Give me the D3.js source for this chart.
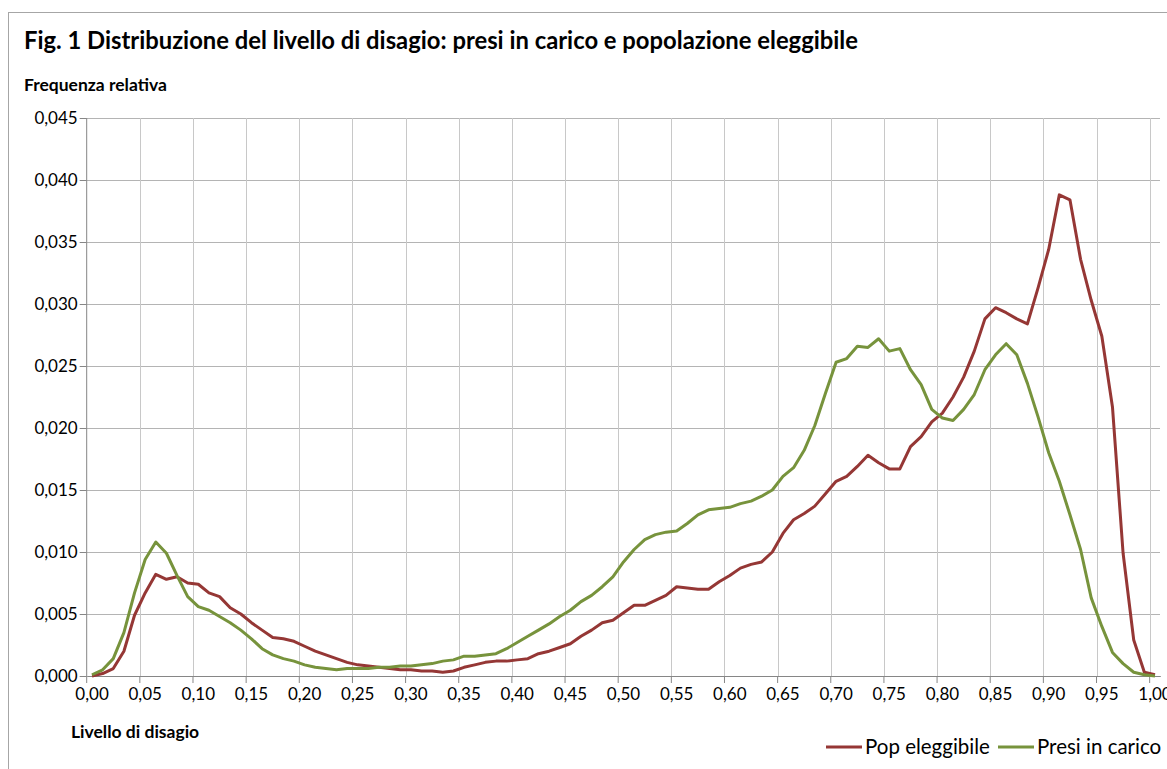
<!DOCTYPE html>
<html>
<head>
	<meta charset="utf-8">
	<script src="https://cdnjs.cloudflare.com/ajax/libs/d3/7.8.5/d3.min.js"></script>
	<style>
		body {
			margin: 0;
			background: #fff;
			font-family: Lato, "Open Sans", sans-serif;
		}
		.axis path, .axis line {
			stroke: #868686;
		}
		.axis text {
			font-family: Lato, "Open Sans", sans-serif;
			font-size: 17px;
			fill: #000;
		}
		.grid line {
			shape-rendering: crispEdges;
		}
		.grid path {
			display: none;
		}
	</style>
</head>
<body>
	<svg width="1167" height="769"></svg>
	<script>
	// livello di disagio (categorie)
	var levels = [0.00,0.01,0.02,0.03,0.04,0.05,0.06,0.07,0.08,0.09,
		0.10,0.11,0.12,0.13,0.14,0.15,0.16,0.17,0.18,0.19,
		0.20,0.21,0.22,0.23,0.24,0.25,0.26,0.27,0.28,0.29,
		0.30,0.31,0.32,0.33,0.34,0.35,0.36,0.37,0.38,0.39,
		0.40,0.41,0.42,0.43,0.44,0.45,0.46,0.47,0.48,0.49,
		0.50,0.51,0.52,0.53,0.54,0.55,0.56,0.57,0.58,0.59,
		0.60,0.61,0.62,0.63,0.64,0.65,0.66,0.67,0.68,0.69,
		0.70,0.71,0.72,0.73,0.74,0.75,0.76,0.77,0.78,0.79,
		0.80,0.81,0.82,0.83,0.84,0.85,0.86,0.87,0.88,0.89,
		0.90,0.91,0.92,0.93,0.94,0.95,0.96,0.97,0.98,0.99,1.00];

	// Pop eleggibile
	var popEleggibile = [0.0000,0.0002,0.0006,0.0020,0.0049,0.0067,0.0082,0.0078,0.0080,0.0075,
		0.0074,0.0067,0.0064,0.0055,0.0050,0.0043,0.0037,0.0031,0.0030,0.0028,
		0.0024,0.0020,0.0017,0.0014,0.0011,0.0009,0.0008,0.0007,0.0006,0.0005,
		0.0005,0.0004,0.0004,0.0003,0.0004,0.0007,0.0009,0.0011,0.0012,0.0012,
		0.0013,0.0014,0.0018,0.0020,0.0023,0.0026,0.0032,0.0037,0.0043,0.0045,
		0.0051,0.0057,0.0057,0.0061,0.0065,0.0072,0.0071,0.0070,0.0070,0.0076,
		0.0081,0.0087,0.0090,0.0092,0.0100,0.0115,0.0126,0.0131,0.0137,0.0147,
		0.0157,0.0161,0.0169,0.0178,0.0172,0.0167,0.0167,0.0185,0.0193,0.0205,
		0.0212,0.0225,0.0241,0.0262,0.0288,0.0297,0.0293,0.0288,0.0284,0.0313,
		0.0344,0.0388,0.0384,0.0336,0.0303,0.0274,0.0217,0.0099,0.0029,0.0003,0.0001];

	// Presi in carico
	var presiInCarico = [0.0001,0.0005,0.0014,0.0035,0.0067,0.0094,0.0108,0.0099,0.0081,0.0064,
		0.0056,0.0053,0.0048,0.0043,0.0037,0.0030,0.0022,0.0017,0.0014,0.0012,
		0.0009,0.0007,0.0006,0.0005,0.0006,0.0006,0.0006,0.0007,0.0007,0.0008,
		0.0008,0.0009,0.0010,0.0012,0.0013,0.0016,0.0016,0.0017,0.0018,0.0022,
		0.0027,0.0032,0.0037,0.0042,0.0048,0.0053,0.0060,0.0065,0.0072,0.0080,
		0.0092,0.0102,0.0110,0.0114,0.0116,0.0117,0.0123,0.0130,0.0134,0.0135,
		0.0136,0.0139,0.0141,0.0145,0.0150,0.0161,0.0168,0.0182,0.0202,0.0228,
		0.0253,0.0256,0.0266,0.0265,0.0272,0.0262,0.0264,0.0247,0.0235,0.0215,
		0.0208,0.0206,0.0215,0.0227,0.0247,0.0259,0.0268,0.0259,0.0236,0.0209,
		0.0180,0.0157,0.0130,0.0102,0.0063,0.0040,0.0019,0.0010,0.0003,0.0001,0.0000];

	var yTicks = [0, 0.005, 0.010, 0.015, 0.020, 0.025, 0.030, 0.035, 0.040, 0.045];
	var xTickLevels = [0.00,0.05,0.10,0.15,0.20,0.25,0.30,0.35,0.40,0.45,0.50,
		0.55,0.60,0.65,0.70,0.75,0.80,0.85,0.90,0.95,1.00];

	var series = [
		{name: "Pop eleggibile", values: popEleggibile, color: "#953735"},
		{name: "Presi in carico", values: presiInCarico, color: "#77933c"}
	];

	// italian number format (comma as decimal)
	var it = d3.formatLocale({decimal: ",", thousands: ".", grouping: [3], currency: ["", " €"]});
	var fmtY = it.format(".3f"),
		fmtX = it.format(".2f");

	var svg = d3.select("svg"),
		plotLeft = 86.7, plotRight = 1160.3, plotTop = 118, plotBottom = 676;

	// chart frame
	svg.append("rect")
		.attr("x", 8.5).attr("y", 12.5)
		.attr("width", 1250).attr("height", 900)
		.attr("fill", "none")
		.attr("stroke", "#a6a6a6");

	//scales
	var x = d3.scaleBand().domain(levels).range([plotLeft, plotRight]).padding(0),
		y = d3.scaleLinear().domain([0, 0.045]).range([plotBottom, plotTop]);
	var bw = x.bandwidth();
	var cx = function(i) { return x(levels[i]) + bw / 2; };

	//horizontal gridlines
	svg.append("g")
		.attr("class", "grid")
		.attr("transform", "translate(" + plotLeft + ",0)")
		.call(d3.axisLeft(y).tickValues(yTicks.slice(1)).tickSize(-(plotRight - plotLeft)).tickFormat(""))
		.selectAll("line").attr("stroke", "#b4b4b4");

	//vertical gridlines (between categories)
	svg.append("g")
		.attr("class", "grid")
		.selectAll("line")
		.data(xTickLevels.slice(1))
		.enter().append("line")
		.attr("x1", function(d) { return Math.round(x(d)) + 0.5; })
		.attr("x2", function(d) { return Math.round(x(d)) + 0.5; })
		.attr("y1", plotTop).attr("y2", plotBottom)
		.attr("stroke", "#c8c8c8");

	//y axis
	var gy = svg.append("g")
		.attr("class", "axis")
		.attr("transform", "translate(" + plotLeft + ",0)")
		.call(d3.axisLeft(y).tickValues(yTicks).tickFormat(fmtY).tickSize(7).tickPadding(2));
	gy.select(".domain").attr("d", "M0," + plotTop + "V" + plotBottom);

	//x axis
	var gx = svg.append("g")
		.attr("class", "axis")
		.attr("transform", "translate(0," + plotBottom + ")")
		.call(d3.axisBottom(x).tickValues(xTickLevels).tickFormat(fmtX).tickSize(7).tickPadding(5).tickSizeOuter(0));
	gx.selectAll(".tick line").attr("x1", -bw / 2).attr("x2", -bw / 2);

	//lines
	var line = d3.line()
		.x(function(d, i) { return cx(i); })
		.y(function(d) { return y(d); });

	svg.selectAll(".serie")
		.data(series)
		.enter().append("path")
		.attr("class", "serie")
		.attr("d", function(d) { return line(d.values); })
		.attr("fill", "none")
		.attr("stroke", function(d) { return d.color; })
		.attr("stroke-width", 3)
		.attr("stroke-linejoin", "round");

	//titles
	svg.append("text")
		.attr("x", 24).attr("y", 49)
		.style("font-size", "23.8px").style("font-weight", "bold")
		.text("Fig. 1 Distribuzione del livello di disagio: presi in carico e popolazione eleggibile");

	svg.append("text")
		.attr("x", 24).attr("y", 91)
		.style("font-size", "17.5px").style("font-weight", "bold")
		.text("Frequenza relativa");

	svg.append("text")
		.attr("x", 71).attr("y", 738)
		.style("font-size", "17.5px").style("font-weight", "bold")
		.text("Livello di disagio");

	//legend
	var legX = [826, 998];
	var leg = svg.selectAll(".leg")
		.data(series)
		.enter().append("g")
		.attr("class", "leg")
		.attr("transform", function(d, i) { return "translate(" + legX[i] + ",747)"; });
	leg.append("line")
		.attr("x1", 0).attr("x2", 36)
		.attr("stroke", function(d) { return d.color; })
		.attr("stroke-width", 3);
	leg.append("text")
		.attr("x", 39).attr("y", 7)
		.style("font-size", "20.5px")
		.text(function(d) { return d.name; });
	</script>
</body>
</html>
